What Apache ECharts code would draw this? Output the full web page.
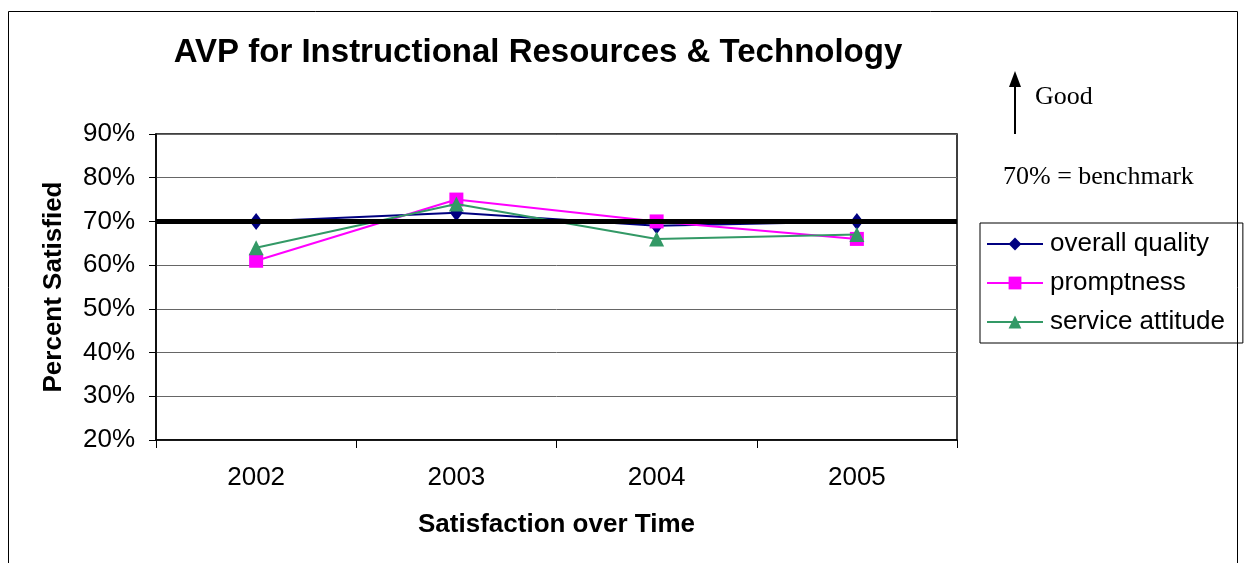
<!DOCTYPE html>
<html>
<head>
<meta charset="utf-8">
<script src="https://cdn.jsdelivr.net/npm/echarts@6/dist/echarts.min.js"></script>
<style>
  html, body { margin: 0; padding: 0; background: #fff; }
  #chart { width: 1246px; height: 563px; }
</style>
</head>
<body>
<div id="chart"></div>
<script>
// values in percent
const years = ["2002", "2003", "2004", "2005"];
const overallQuality = [70, 72, 69, 70];
const promptness = [61, 75, 70, 66];
const serviceAttitude = [64, 74, 66, 67];
const benchmark = 70;

var chartDom = document.getElementById("chart");
var myChart = echarts.init(chartDom);

const font = "'Liberation Sans', Arial, sans-serif";
const serif = "'Liberation Serif', 'Times New Roman', serif";

let option = {
  animation: false,
  textStyle: { fontFamily: font },
  title: {
    text: "AVP for Instructional Resources & Technology",
    left: 533,
    textAlign: "center",
    top: 31,
    textStyle: { fontSize: 33, fontWeight: "bold", color: "#000", fontFamily: font },
  },
  grid: {
    left: 156,
    top: 134,
    width: 801,
    height: 306,
    show: true,
    borderColor: "#000",
    borderWidth: 1.5,
  },
  legend: {
    orient: "vertical",
    left: 980,
    top: 223,
    padding: [8, 18, 8, 6],
    borderColor: "#000",
    borderWidth: 1,
    itemWidth: 56,
    itemHeight: 16,
    itemGap: 13,
    textStyle: { fontSize: 26, color: "#000", fontFamily: font, padding: [0, 0, 0, 2] },
    data: ["overall quality", "promptness", "service attitude"],
  },
  xAxis: {
    type: "category",
    data: years,
    boundaryGap: true,
    name: "Satisfaction over Time",
    nameLocation: "middle",
    nameGap: 72,
    nameTextStyle: { fontSize: 26, fontWeight: "bold", color: "#000" },
    axisLine: { lineStyle: { color: "#000", width: 1.5 } },
    axisTick: { show: true, length: 8, inside: false, lineStyle: { color: "#000" } },
    axisLabel: { fontSize: 26, color: "#000", margin: 25 },
    splitLine: { show: false },
  },
  yAxis: {
    type: "value",
    min: 20,
    max: 90,
    interval: 10,
    name: "Percent Satisfied",
    nameLocation: "middle",
    nameRotate: 90,
    nameGap: 89,
    nameTextStyle: { fontSize: 26, fontWeight: "bold", color: "#000" },
    axisLine: { show: true, lineStyle: { color: "#000", width: 1.5 } },
    axisTick: { show: true, length: 7, lineStyle: { color: "#000" } },
    axisLabel: { fontSize: 26, color: "#000", margin: 21, formatter: "{value}%" },
    splitLine: { show: true, lineStyle: { color: "#666", width: 1 } },
  },
  series: [
    {
      name: "overall quality",
      type: "line",
      data: overallQuality,
      symbol: "diamond",
      symbolSize: [13, 17],
      lineStyle: { color: "#000080", width: 2 },
      itemStyle: { color: "#000080" },
      z: 3,
      markLine: {
        silent: true,
        symbol: "none",
        label: { show: false },
        lineStyle: { color: "#000", width: 5, type: "solid" },
        data: [{ yAxis: benchmark }],
        z: 5,
      },
    },
    {
      name: "promptness",
      type: "line",
      data: promptness,
      symbol: "rect",
      symbolSize: 14,
      lineStyle: { color: "#FF00FF", width: 2 },
      itemStyle: { color: "#FF00FF" },
      z: 3,
    },
    {
      name: "service attitude",
      type: "line",
      data: serviceAttitude,
      symbol: "triangle",
      symbolSize: 15,
      lineStyle: { color: "#339966", width: 2 },
      itemStyle: { color: "#339966" },
      z: 4,
    },
  ],
  graphic: [
    {
      type: "rect",
      shape: { x: 8.5, y: 11.5, width: 1229, height: 570 },
      style: { fill: null, stroke: "#000", lineWidth: 1 },
      silent: true,
      z: -1,
    },
    {
      type: "line",
      shape: { x1: 1015, y1: 134, x2: 1015, y2: 82 },
      style: { stroke: "#000", lineWidth: 2 },
    },
    {
      type: "polygon",
      shape: { points: [[1015, 71], [1009, 87], [1021, 87]] },
      style: { fill: "#000" },
    },
    {
      type: "text",
      left: 1035,
      top: 84,
      style: { text: "Good", font: "26px " + serif, fill: "#000" },
    },
    {
      type: "text",
      left: 1003,
      top: 164,
      style: { text: "70% = benchmark", font: "26px " + serif, fill: "#000" },
    },
  ],
};

option && myChart.setOption(option);
</script>
</body>
</html>
